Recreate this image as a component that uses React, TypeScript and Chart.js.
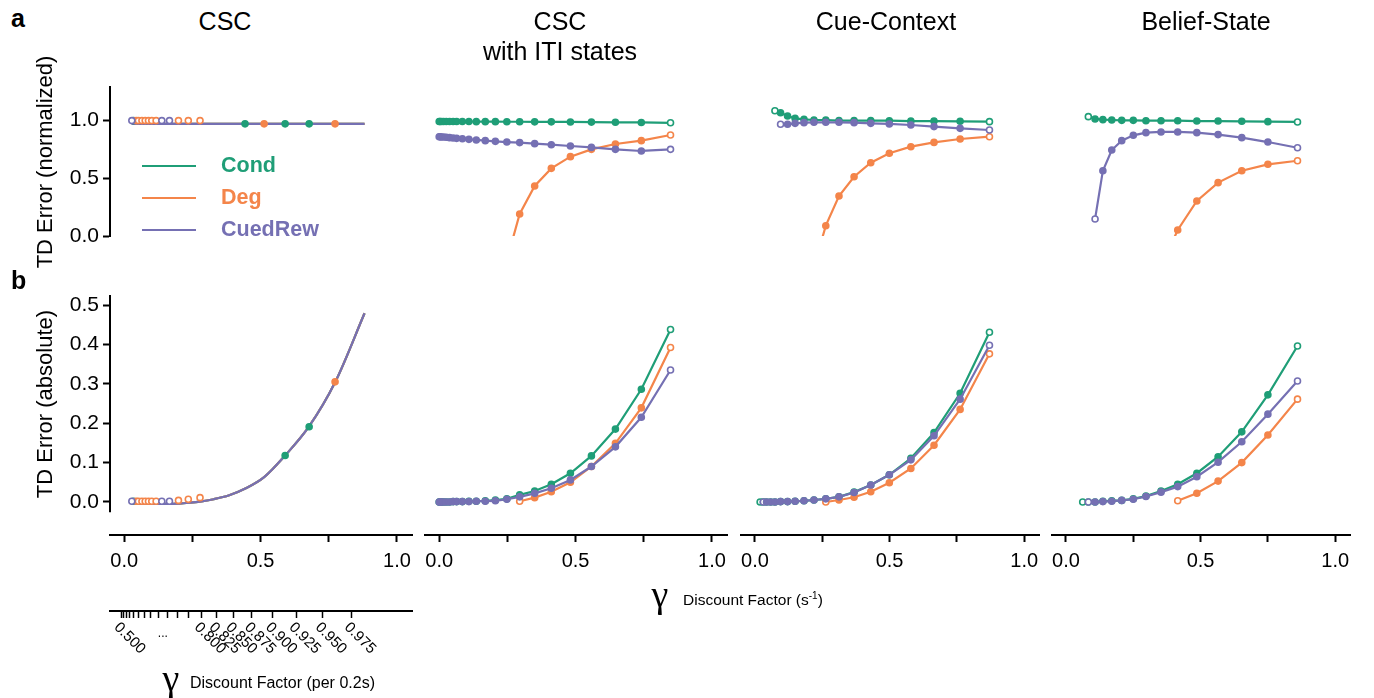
import React, { useEffect, useRef } from "react";
import { Chart, registerables } from "chart.js";

Chart.register(...registerables);

const FONT = '"Liberation Sans", Arial, Helvetica, sans-serif';
const SERIF = '"Liberation Serif", "DejaVu Serif", serif';
const COND = "#1f9e77";
const DEG = "#f4854a";
const CUED = "#7570b3";

// ---------- axes ----------
const X_TICKS = [0, 0.25, 0.5, 0.75, 1.0];
const X_TICK_LABELS = ["0.0", "", "0.5", "", "1.0"];
const Y_TOP_TICKS = [0, 0.5, 1.0];
const Y_TOP_LABELS = ["0.0", "0.5", "1.0"];
const Y_BOT_TICKS = [0, 0.1, 0.2, 0.3, 0.4, 0.5];
const Y_BOT_LABELS = ["0.0", "0.1", "0.2", "0.3", "0.4", "0.5"];
const PER_STEP_TICKS = [0.5, 0.525, 0.55, 0.575, 0.6, 0.625, 0.65, 0.675, 0.7, 0.725, 0.75, 0.775, 0.8, 0.825, 0.85, 0.875, 0.9, 0.925, 0.95, 0.975];
const PER_STEP_LABELS = ["0.500", "", "", "", "", "", "", "", "", "", "", "", "0.800", "0.825", "0.850", "0.875", "0.900", "0.925", "0.950", "0.975"];
const TITLES = ["CSC", "CSC\nwith ITI states", "Cue-Context", "Belief-State"];
const LEGEND = ["Cond", "Deg", "CuedRew"];

// ---------- CSC ----------
const CSC_X = [0.028, 0.04, 0.05, 0.063, 0.078, 0.095, 0.116, 0.14, 0.168, 0.2, 0.237, 0.278, 0.328, 0.385, 0.444, 0.513, 0.59, 0.677, 0.774, 0.881];
const CSC_TOP = [0.967, 0.967, 0.967, 0.967, 0.967, 0.967, 0.967, 0.967, 0.967, 0.967, 0.967, 0.967, 0.967, 0.967, 0.967, 0.967, 0.967, 0.967, 0.967, 0.967];
const CSC_BOT = [-0.005, -0.005, -0.005, -0.005, -0.005, -0.005, -0.005, -0.005, -0.005, -0.004, -0.002, 0.001, 0.007, 0.017, 0.034, 0.063, 0.118, 0.191, 0.305, 0.479];
const CSC_MK_COND_X_TOP = [0.034, 0.443, 0.59, 0.678];
const CSC_MK_COND_Y_TOP = [0.995, 0.967, 0.967, 0.967];
const CSC_MK_DEG_X_TOP = [0.044, 0.052, 0.065, 0.077, 0.089, 0.101, 0.117, 0.199, 0.235, 0.278, 0.513, 0.773];
const CSC_MK_DEG_Y_TOP = [0.995, 0.995, 0.995, 0.995, 0.995, 0.995, 0.995, 0.995, 0.995, 0.995, 0.967, 0.967];
const CSC_MK_CUED_X_TOP = [0.028, 0.138, 0.166];
const CSC_MK_CUED_Y_TOP = [0.995, 0.995, 0.995];
const CSC_MK_COND_X_BOT = [0.034, 0.59, 0.678];
const CSC_MK_COND_Y_BOT = [0.002, 0.118, 0.191];
const CSC_MK_DEG_X_BOT = [0.044, 0.052, 0.065, 0.077, 0.089, 0.101, 0.117, 0.199, 0.235, 0.278, 0.773];
const CSC_MK_DEG_Y_BOT = [0.002, 0.002, 0.002, 0.002, 0.002, 0.002, 0.002, 0.004, 0.007, 0.011, 0.305];
const CSC_MK_CUED_X_BOT = [0.028, 0.138, 0.166];
const CSC_MK_CUED_Y_BOT = [0.002, 0.002, 0.002];

// ---------- CSC with ITI states ----------
const ITI_X = [0.0, 0.003, 0.008, 0.016, 0.026, 0.038, 0.051, 0.064, 0.085, 0.109, 0.136, 0.169, 0.206, 0.248, 0.295, 0.35, 0.411, 0.481, 0.558, 0.646, 0.741, 0.848];
const ITI_TOP_COND = [0.987, 0.987, 0.987, 0.987, 0.987, 0.987, 0.987, 0.987, 0.987, 0.987, 0.986, 0.986, 0.986, 0.985, 0.985, 0.984, 0.984, 0.983, 0.982, 0.98, 0.979, 0.976];
const ITI_TOP_DEG = [null, null, null, null, null, null, null, null, null, null, null, null, null, -0.21, 0.19, 0.431, 0.583, 0.684, 0.747, 0.793, 0.822, 0.871];
const ITI_TOP_CUED = [0.856, 0.855, 0.854, 0.853, 0.851, 0.848, 0.845, 0.842, 0.839, 0.833, 0.828, 0.822, 0.816, 0.81, 0.805, 0.796, 0.787, 0.776, 0.764, 0.747, 0.733, 0.747];
const ITI_BOT_COND = [0, 0, 0, 0, 0, 0, 0.001, 0.001, 0.001, 0.002, 0.002, 0.003, 0.005, 0.008, 0.018, 0.028, 0.045, 0.073, 0.117, 0.185, 0.286, 0.438];
const ITI_BOT_DEG = [null, null, null, null, null, null, null, null, null, null, null, null, null, null, 0.002, 0.011, 0.026, 0.05, 0.09, 0.149, 0.239, 0.392];
const ITI_BOT_CUED = [0, 0, 0, 0, 0, 0, 0.001, 0.001, 0.001, 0.001, 0.002, 0.002, 0.003, 0.007, 0.013, 0.022, 0.035, 0.056, 0.09, 0.14, 0.215, 0.335];

// ---------- Cue-Context ----------
const CC_X = [0.019, 0.031, 0.043, 0.058, 0.074, 0.095, 0.121, 0.149, 0.182, 0.219, 0.263, 0.312, 0.368, 0.43, 0.499, 0.579, 0.665, 0.762, 0.871];
const CC_TOP_COND = [null, null, null, null, 1.08, 1.063, 1.034, 1.014, 1.006, 1.0, 1.0, 0.995, 0.995, 0.995, 0.994, 0.991, 0.991, 0.989, 0.986];
const CC_TOP_DEG = [null, null, null, null, null, null, null, null, null, -0.27, 0.089, 0.345, 0.511, 0.632, 0.713, 0.77, 0.807, 0.836, 0.856];
const CC_TOP_CUED = [null, null, null, null, null, 0.963, 0.963, 0.971, 0.977, 0.98, 0.98, 0.98, 0.977, 0.971, 0.966, 0.957, 0.943, 0.928, 0.914];
const CC_BOT_COND = [0, 0, 0, 0, 0, 0.001, 0.001, 0.002, 0.003, 0.005, 0.008, 0.013, 0.025, 0.043, 0.069, 0.111, 0.176, 0.276, 0.431];
const CC_BOT_DEG = [null, null, null, null, null, null, null, null, null, null, 0.0, 0.005, 0.012, 0.026, 0.049, 0.085, 0.144, 0.235, 0.376];
const CC_BOT_CUED = [null, 0, 0, 0, 0, 0.001, 0.001, 0.002, 0.003, 0.005, 0.008, 0.013, 0.024, 0.043, 0.069, 0.107, 0.168, 0.261, 0.398];

// ---------- Belief-State ----------
const BS_X = [0.062, 0.083, 0.108, 0.137, 0.17, 0.207, 0.25, 0.297, 0.353, 0.415, 0.486, 0.565, 0.653, 0.75, 0.86];
const BS_TOP_COND = [null, 1.029, 1.009, 1.003, 1.0, 0.997, 0.997, 0.994, 0.994, 0.994, 0.991, 0.991, 0.989, 0.986, 0.983];
const BS_TOP_DEG = [null, null, null, null, null, null, null, null, -0.27, 0.052, 0.302, 0.46, 0.563, 0.618, 0.649];
const BS_TOP_CUED = [null, null, 0.147, 0.563, 0.741, 0.822, 0.868, 0.891, 0.897, 0.897, 0.891, 0.874, 0.848, 0.81, 0.761];
const BS_BOT_COND = [0, 0, 0, 0.002, 0.003, 0.004, 0.008, 0.015, 0.028, 0.045, 0.073, 0.115, 0.178, 0.272, 0.396];
const BS_BOT_DEG = [null, null, null, null, null, null, null, null, null, 0.003, 0.022, 0.053, 0.1, 0.17, 0.261];
const BS_BOT_CUED = [null, 0, 0, 0.001, 0.002, 0.004, 0.007, 0.014, 0.025, 0.039, 0.064, 0.101, 0.153, 0.223, 0.307];

// ---------- layout ----------
const X_MIN = -0.052;
const X_MAX = 1.055;
const X2_MIN = -0.0107;
const X2_MAX = 1.1037;
const Y_TOP_MIN = 0;
const Y_TOP_MAX = 1.2845;
const Y_BOT_MIN = -0.0838;
const Y_BOT_MAX = 0.5254;
const Y_BOT_AXIS_LOW = -0.026;
const AREA_LEFT = [110, 425, 741, 1052];
const AREA_W = [302, 302, 298, 298];
const PAD = 10;
const YAXIS_W = 80;
const TOP_CANVAS_Y = 80;
const TOP_H = 165;
const BOT_CANVAS_Y = 285;
const X_AXIS_H = 45;
const X_AXIS_H_FIRST = 76;
const X2_AXIS_H = 80;
const BOT_AREA_H = 240;

function pairs(xs: number[], ys: (number | null)[]) {
  const out: { x: number; y: number }[] = [];
  xs.forEach((x, i) => {
    const y = ys[i];
    if (y !== null && y !== undefined) out.push({ x, y });
  });
  return out;
}

function lineDs(xs: number[], ys: (number | null)[], color: string) {
  const data = pairs(xs, ys);
  const last = data.length - 1;
  return {
    data,
    borderColor: color,
    backgroundColor: color,
    borderWidth: 2.2,
    pointRadius: 3,
    pointHoverRadius: 3,
    pointBorderWidth: 1.6,
    pointBorderColor: color,
    pointBackgroundColor: (c: any) => (c.dataIndex === 0 || c.dataIndex === last ? "#ffffff" : color),
    tension: 0,
  };
}

function curveDs(xs: number[], ys: number[], color: string) {
  return {
    data: pairs(xs, ys),
    borderColor: color,
    backgroundColor: color,
    borderWidth: 2.2,
    pointRadius: 0,
    cubicInterpolationMode: "monotone",
  };
}

function markDs(xs: number[], ys: number[], color: string) {
  return {
    data: pairs(xs, ys),
    showLine: false,
    borderColor: color,
    backgroundColor: color,
    pointRadius: 3,
    pointHoverRadius: 3,
    pointBorderWidth: 1.6,
    pointBorderColor: color,
    pointBackgroundColor: (c: any) => (c.raw && c.raw.x < 0.3 ? "#ffffff" : color),
  };
}

const cscBottomPlugin = {
  id: "cscBottom",
  afterDraw(chart: any) {
    const ctx = chart.ctx;
    const y = chart.scales.y;
    const area = chart.chartArea;
    ctx.save();
    ctx.strokeStyle = "#000";
    ctx.lineWidth = 2;
    ctx.beginPath();
    ctx.moveTo(area.left, area.top);
    ctx.lineTo(area.left, y.getPixelForValue(Y_BOT_AXIS_LOW));
    ctx.stroke();
    const x2 = chart.scales.x2;
    ctx.fillStyle = "#000";
    ctx.font = `15px ${FONT}`;
    ctx.textBaseline = "middle";
    ctx.textAlign = "left";
    PER_STEP_TICKS.forEach((g, i) => {
      const lab = PER_STEP_LABELS[i];
      if (!lab) return;
      const px = x2.getPixelForValue(Math.pow(g, 5));
      ctx.save();
      ctx.translate(px - 5, x2.top + 14);
      ctx.rotate(Math.PI / 4);
      ctx.fillText(lab, 0, 0);
      ctx.restore();
    });
    const a = x2.getPixelForValue(Math.pow(PER_STEP_TICKS[8], 5));
    const b = x2.getPixelForValue(Math.pow(PER_STEP_TICKS[9], 5));
    ctx.textAlign = "center";
    ctx.font = `12px ${FONT}`;
    ctx.fillText("...", (a + b) / 2, x2.top + 23);
    ctx.restore();
  },
};

function zeroPad(s: any) {
  s.paddingTop = 0;
  s.paddingBottom = 0;
  s.paddingLeft = 0;
  s.paddingRight = 0;
}

function makeOptions(panel: number, row: "top" | "bottom") {
  const first = panel === 0;
  const top = row === "top";
  const scales: any = {
    x: {
      type: "linear",
      min: X_MIN,
      max: X_MAX,
      display: !top,
      weight: 0,
      afterBuildTicks: (s: any) => {
        s.ticks = X_TICKS.map((v) => ({ value: v }));
      },
      afterFit: (s: any) => {
        s.height = top ? 0 : first ? X_AXIS_H_FIRST : X_AXIS_H;
        zeroPad(s);
      },
      ticks: {
        autoSkip: false,
        maxRotation: 0,
        minRotation: 0,
        color: "#000",
        padding: 7,
        font: { family: FONT, size: 20 },
        callback: (_v: any, i: number) => X_TICK_LABELS[i],
      },
      grid: { drawOnChartArea: false, drawTicks: true, tickLength: 7, tickWidth: 2, tickColor: "#000" },
      border: { display: true, color: "#000", width: 2 },
    },
    y: {
      type: "linear",
      min: top ? Y_TOP_MIN : Y_BOT_MIN,
      max: top ? Y_TOP_MAX : Y_BOT_MAX,
      display: first,
      afterBuildTicks: (s: any) => {
        s.ticks = (top ? Y_TOP_TICKS : Y_BOT_TICKS).map((v) => ({ value: v }));
      },
      afterFit: (s: any) => {
        s.width = first ? YAXIS_W : 0;
        zeroPad(s);
      },
      ticks: {
        autoSkip: false,
        color: "#000",
        padding: 4,
        font: { family: FONT, size: 21 },
        callback: (_v: any, i: number) => (top ? Y_TOP_LABELS : Y_BOT_LABELS)[i],
      },
      grid: { drawOnChartArea: false, drawTicks: true, tickLength: 7, tickWidth: 2, tickColor: "#000" },
      border: { display: top, color: "#000", width: 2 },
    },
  };
  if (first && !top) {
    scales.x2 = {
      type: "linear",
      axis: "x",
      position: "bottom",
      min: X2_MIN,
      max: X2_MAX,
      weight: 1,
      afterBuildTicks: (s: any) => {
        s.ticks = PER_STEP_TICKS.map((g) => ({ value: Math.pow(g, 5) }));
      },
      afterFit: (s: any) => {
        s.height = X2_AXIS_H;
        zeroPad(s);
      },
      ticks: { display: false, autoSkip: false },
      grid: { drawOnChartArea: false, drawTicks: true, tickLength: 7, tickWidth: 1.5, tickColor: "#000" },
      border: { display: true, color: "#000", width: 2 },
    };
  }
  return {
    responsive: false,
    animation: false,
    events: [],
    layout: { padding: { left: PAD, right: PAD, top: top ? 7 : 10, bottom: top ? 9 : 0 } },
    plugins: { legend: { display: false }, tooltip: { enabled: false } },
    scales,
  };
}

function panelDatasets(panel: number, row: "top" | "bottom") {
  const top = row === "top";
  if (panel === 0) {
    return top
      ? [
          markDs(CSC_MK_CUED_X_TOP, CSC_MK_CUED_Y_TOP, CUED),
          markDs(CSC_MK_DEG_X_TOP, CSC_MK_DEG_Y_TOP, DEG),
          markDs(CSC_MK_COND_X_TOP, CSC_MK_COND_Y_TOP, COND),
          curveDs(CSC_X, CSC_TOP, CUED),
          curveDs(CSC_X, CSC_TOP, DEG),
          curveDs(CSC_X, CSC_TOP, COND),
        ]
      : [
          markDs(CSC_MK_CUED_X_BOT, CSC_MK_CUED_Y_BOT, CUED),
          markDs(CSC_MK_DEG_X_BOT, CSC_MK_DEG_Y_BOT, DEG),
          markDs(CSC_MK_COND_X_BOT, CSC_MK_COND_Y_BOT, COND),
          curveDs(CSC_X, CSC_BOT, CUED),
          curveDs(CSC_X, CSC_BOT, DEG),
          curveDs(CSC_X, CSC_BOT, COND),
        ];
  }
  if (panel === 1) {
    return top
      ? [lineDs(ITI_X, ITI_TOP_CUED, CUED), lineDs(ITI_X, ITI_TOP_DEG, DEG), lineDs(ITI_X, ITI_TOP_COND, COND)]
      : [lineDs(ITI_X, ITI_BOT_CUED, CUED), lineDs(ITI_X, ITI_BOT_DEG, DEG), lineDs(ITI_X, ITI_BOT_COND, COND)];
  }
  if (panel === 2) {
    return top
      ? [lineDs(CC_X, CC_TOP_CUED, CUED), lineDs(CC_X, CC_TOP_DEG, DEG), lineDs(CC_X, CC_TOP_COND, COND)]
      : [lineDs(CC_X, CC_BOT_CUED, CUED), lineDs(CC_X, CC_BOT_DEG, DEG), lineDs(CC_X, CC_BOT_COND, COND)];
  }
  return top
    ? [lineDs(BS_X, BS_TOP_CUED, CUED), lineDs(BS_X, BS_TOP_DEG, DEG), lineDs(BS_X, BS_TOP_COND, COND)]
    : [lineDs(BS_X, BS_BOT_CUED, CUED), lineDs(BS_X, BS_BOT_DEG, DEG), lineDs(BS_X, BS_BOT_COND, COND)];
}

type Geo = { panel: number; row: "top" | "bottom"; left: number; top: number; width: number; height: number };

function geometry(): Geo[] {
  const out: Geo[] = [];
  (["top", "bottom"] as const).forEach((row) => {
    [0, 1, 2, 3].forEach((panel) => {
      const first = panel === 0;
      const left = AREA_LEFT[panel] - PAD - (first ? YAXIS_W : 0);
      const width = AREA_W[panel] + 2 * PAD + (first ? YAXIS_W : 0);
      const top = row === "top" ? TOP_CANVAS_Y : BOT_CANVAS_Y;
      const height =
        row === "top" ? TOP_H : 10 + BOT_AREA_H + (first ? X_AXIS_H_FIRST + X2_AXIS_H : X_AXIS_H);
      out.push({ panel, row, left, top, width, height });
    });
  });
  return out;
}

const GEO = geometry();

export default function App() {
  const refs = useRef<(HTMLCanvasElement | null)[]>([]);
  useEffect(() => {
    const charts: Chart[] = [];
    GEO.forEach((g, i) => {
      const cv = refs.current[i];
      if (!cv) return;
      const cfg: any = {
        type: "line",
        data: { datasets: panelDatasets(g.panel, g.row) },
        options: makeOptions(g.panel, g.row),
        plugins: g.panel === 0 && g.row === "bottom" ? [cscBottomPlugin] : [],
      };
      charts.push(new Chart(cv, cfg));
    });
    return () => charts.forEach((c) => c.destroy());
  }, []);

  const text = (content: React.ReactNode, style: React.CSSProperties, key: string) => (
    <div key={key} style={{ position: "absolute", whiteSpace: "nowrap", lineHeight: 1, ...style }}>
      {content}
    </div>
  );

  const titleCenters = [225, 560, 886, 1206];
  const legendColors = [COND, DEG, CUED];
  const legendY = [166, 198, 230];

  return (
    <div
      style={{
        position: "absolute",
        left: 0,
        top: 0,
        width: 1374,
        height: 698,
        background: "#ffffff",
        fontFamily: FONT,
        color: "#000",
        overflow: "hidden",
      }}
    >
      {GEO.map((g, i) => (
        <canvas
          key={`c${i}`}
          ref={(el) => {
            refs.current[i] = el;
          }}
          width={g.width}
          height={g.height}
          style={{ position: "absolute", left: g.left, top: g.top, width: g.width, height: g.height }}
        />
      ))}
      {text("a", { left: 11, top: 6, fontSize: 25, fontWeight: "bold" }, "la")}
      {text("b", { left: 11, top: 268, fontSize: 25, fontWeight: "bold" }, "lb")}
      {TITLES.map((t, i) => (
        <div
          key={`t${i}`}
          style={{
            position: "absolute",
            left: titleCenters[i] - 150,
            width: 300,
            top: 6,
            textAlign: "center",
            fontSize: 25,
            lineHeight: "30px",
            whiteSpace: "pre",
          }}
        >
          {t}
        </div>
      ))}
      {text("TD Error (normalized)", { left: 45, top: 162, fontSize: 22, transform: "translate(-50%, -50%) rotate(-90deg)" }, "yt1")}
      {text("TD Error (absolute)", { left: 45, top: 404, fontSize: 22, transform: "translate(-50%, -50%) rotate(-90deg)" }, "yt2")}
      {LEGEND.map((l, i) => (
        <React.Fragment key={`lg${i}`}>
          <div style={{ position: "absolute", left: 142, top: legendY[i] - 1.25, width: 54, height: 2.5, background: legendColors[i] }} />
          {text(l, { left: 221, top: legendY[i], transform: "translateY(-50%)", fontSize: 21.5, fontWeight: "bold", color: legendColors[i] }, `lt${i}`)}
        </React.Fragment>
      ))}
      {text("γ", { left: 660, top: 594, transform: "translate(-50%, -50%)", fontSize: 38, fontFamily: SERIF }, "g1")}
      {text(
        <span>
          Discount Factor (s<sup style={{ fontSize: 10, verticalAlign: "6px" }}>-1</sup>)
        </span>,
        { left: 683, top: 599, transform: "translateY(-50%)", fontSize: 15.5 },
        "xt1"
      )}
      {text("γ", { left: 171, top: 678, transform: "translate(-50%, -50%)", fontSize: 38, fontFamily: SERIF }, "g2")}
      {text("Discount Factor (per 0.2s)", { left: 190, top: 683, transform: "translateY(-50%)", fontSize: 16 }, "xt2")}
    </div>
  );
}
